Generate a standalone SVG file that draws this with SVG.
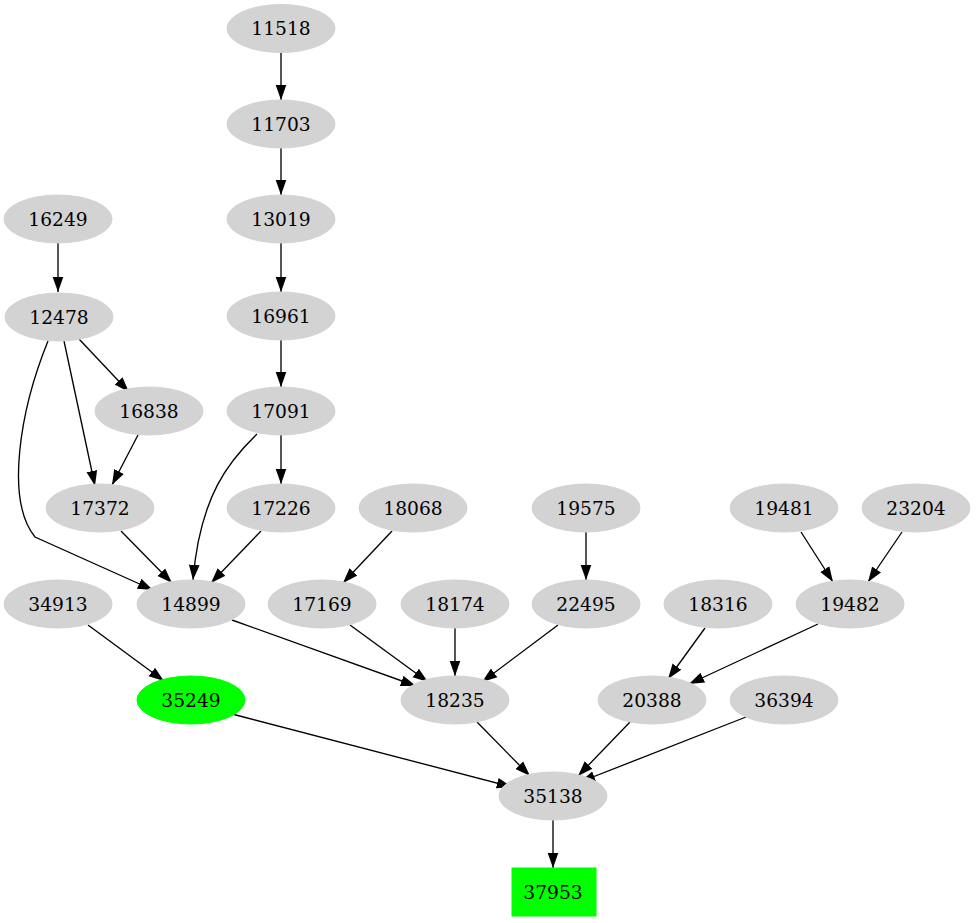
<svg xmlns="http://www.w3.org/2000/svg" width="977" height="923" viewBox="0 0 977 923">
<style>
.n ellipse{fill:#d3d3d3;stroke:#d3d3d3}
.n text{font-family:"DejaVu Serif","Liberation Serif",serif;font-size:18.67px;text-anchor:middle;fill:#000}
.g ellipse,.g rect{fill:#00ff00;stroke:#00ff00}
#edges path{fill:none;stroke:#000;stroke-width:1.33;marker-end:url(#arr)}
</style>
<defs>
<marker id="arr" markerUnits="userSpaceOnUse" markerWidth="16" markerHeight="12" refX="13.3" refY="4.7" orient="auto" viewBox="0 0 14 9.4">
<path d="M0,0 L13.3,4.7 L0,9.4 z" fill="#000"/>
</marker>
</defs>
<rect width="977" height="923" fill="#fff"/>
<g id="edges">
<path d="M281,52 L281,100"/>
<path d="M281,148 L281,195"/>
<path d="M281,243 L281,292"/>
<path d="M281,340 L281,387"/>
<path d="M58,243 L58,292"/>
<path d="M79,339 L129,392"/>
<path d="M64,341 L95,486"/>
<path d="M48,341 C20,410 5,500 35,537 L153,590"/>
<path d="M138,435 L112,485"/>
<path d="M281,435 L281,484"/>
<path d="M257,434 C230,460 200,495 193,580"/>
<path d="M121,531 L172,583"/>
<path d="M261,531 L211,583"/>
<path d="M392,531 L343,583"/>
<path d="M586,532 L586,580"/>
<path d="M801,532 L833,582"/>
<path d="M902,532 L868,582"/>
<path d="M88,625 L164,681"/>
<path d="M232,620 L416,686"/>
<path d="M350,625 L428,682"/>
<path d="M455,628 L455,676"/>
<path d="M558,625 L482,682"/>
<path d="M705,628 L668,679"/>
<path d="M818,624 L689,684"/>
<path d="M232,714 L512,787"/>
<path d="M477,722 L530,776"/>
<path d="M630,722 L578,776"/>
<path d="M746,717 L580,782"/>
<path d="M553,820 L553,868"/>
</g>
<g id="n11518" class="n"><ellipse cx="281" cy="28.5" rx="54" ry="24"/><text x="281" y="35">11518</text></g>
<g id="n11703" class="n"><ellipse cx="281" cy="124" rx="54" ry="24"/><text x="281" y="130.5">11703</text></g>
<g id="n13019" class="n"><ellipse cx="281" cy="219" rx="54" ry="24"/><text x="281" y="225.5">13019</text></g>
<g id="n16249" class="n"><ellipse cx="58" cy="219" rx="54" ry="24"/><text x="58" y="225.5">16249</text></g>
<g id="n16961" class="n"><ellipse cx="281" cy="316" rx="54" ry="24"/><text x="281" y="322.5">16961</text></g>
<g id="n12478" class="n"><ellipse cx="59" cy="317" rx="54" ry="24"/><text x="59" y="323.5">12478</text></g>
<g id="n17091" class="n"><ellipse cx="281" cy="411" rx="54" ry="24"/><text x="281" y="417.5">17091</text></g>
<g id="n16838" class="n"><ellipse cx="149" cy="411" rx="54" ry="24"/><text x="149" y="417.5">16838</text></g>
<g id="n17372" class="n"><ellipse cx="100" cy="508" rx="54" ry="24"/><text x="100" y="514.5">17372</text></g>
<g id="n17226" class="n"><ellipse cx="281" cy="508" rx="54" ry="24"/><text x="281" y="514.5">17226</text></g>
<g id="n18068" class="n"><ellipse cx="413" cy="508" rx="54" ry="24"/><text x="413" y="514.5">18068</text></g>
<g id="n19575" class="n"><ellipse cx="586" cy="508" rx="54" ry="24"/><text x="586" y="514.5">19575</text></g>
<g id="n19481" class="n"><ellipse cx="784" cy="508" rx="54" ry="24"/><text x="784" y="514.5">19481</text></g>
<g id="n23204" class="n"><ellipse cx="916" cy="508" rx="54" ry="24"/><text x="916" y="514.5">23204</text></g>
<g id="n34913" class="n"><ellipse cx="58" cy="604" rx="54" ry="24"/><text x="58" y="610.5">34913</text></g>
<g id="n14899" class="n"><ellipse cx="191" cy="604" rx="54" ry="24"/><text x="191" y="610.5">14899</text></g>
<g id="n17169" class="n"><ellipse cx="322" cy="604" rx="54" ry="24"/><text x="322" y="610.5">17169</text></g>
<g id="n18174" class="n"><ellipse cx="455" cy="604" rx="54" ry="24"/><text x="455" y="610.5">18174</text></g>
<g id="n22495" class="n"><ellipse cx="586" cy="604" rx="54" ry="24"/><text x="586" y="610.5">22495</text></g>
<g id="n18316" class="n"><ellipse cx="718" cy="604" rx="54" ry="24"/><text x="718" y="610.5">18316</text></g>
<g id="n19482" class="n"><ellipse cx="850" cy="604" rx="54" ry="24"/><text x="850" y="610.5">19482</text></g>
<g id="n35249" class="n g"><ellipse cx="191" cy="700" rx="54" ry="24"/><text x="191" y="706.5">35249</text></g>
<g id="n18235" class="n"><ellipse cx="455" cy="700" rx="54" ry="24"/><text x="455" y="706.5">18235</text></g>
<g id="n20388" class="n"><ellipse cx="652" cy="700" rx="54" ry="24"/><text x="652" y="706.5">20388</text></g>
<g id="n36394" class="n"><ellipse cx="784" cy="700" rx="54" ry="24"/><text x="784" y="706.5">36394</text></g>
<g id="n35138" class="n"><ellipse cx="553" cy="796" rx="54" ry="24"/><text x="553" y="802.5">35138</text></g>
<g id="n37953" class="n g"><rect x="512" y="868" width="84" height="48"/><text x="553" y="898.5">37953</text></g>
</svg>
